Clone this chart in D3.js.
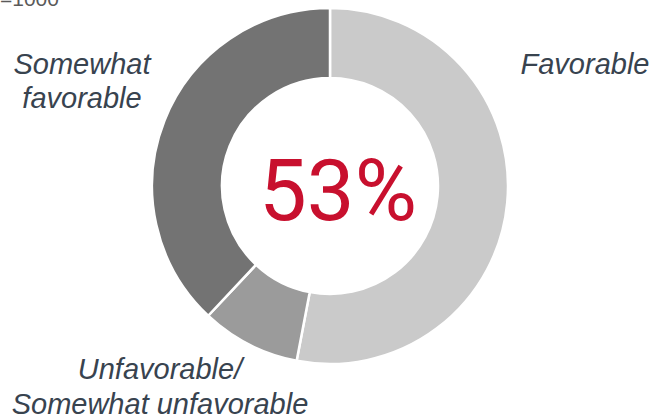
<!DOCTYPE html>
<html>
<head>
<meta charset="utf-8">
<script src="https://cdn.jsdelivr.net/npm/d3@7"></script>
<style>
  html, body { margin: 0; padding: 0; background: #fff; }
  svg { display: block; }
</style>
</head>
<body>
<svg id="chart" width="652" height="416"></svg>
<script>
// Survey responses (share of respondents, %)
const categories = ["Favorable", "Unfavorable/Somewhat unfavorable", "Somewhat favorable"];
const shares = [53, 9, 38];
const sliceColors = ["#cacaca", "#9b9b9b", "#737373"];
const centerLabel = "53%";
const sampleNote = "n=1000";

const svg = d3.select("#chart");
const cx = 330, cy = 186;
const outerR = 178, innerR = 108;

const pie = d3.pie().sort(null).value(d => d.value);
const arc = d3.arc().innerRadius(innerR).outerRadius(outerR);

const data = categories.map((c, i) => ({ name: c, value: shares[i], color: sliceColors[i] }));

const g = svg.append("g").attr("transform", `translate(${cx},${cy})`);
g.selectAll("path")
  .data(pie(data))
  .join("path")
  .attr("d", arc)
  .attr("fill", d => d.data.color)
  .attr("stroke", "#fff")
  .attr("stroke-width", 2.5)
  .attr("stroke-linejoin", "miter");

// Center value
svg.append("text")
  .attr("x", 338)
  .attr("y", 220)
  .attr("text-anchor", "middle")
  .attr("font-family", "Roboto, 'Liberation Sans', sans-serif")
  .attr("font-size", 85)
  .attr("fill", "#c8102e")
  .text(centerLabel);

// Sample size note (runs off the top-left corner)
svg.append("text")
  .attr("x", 0)
  .attr("y", 6)
  .attr("text-anchor", "end")
  .attr("font-family", "'Liberation Sans', Arial, sans-serif")
  .attr("font-size", 21)
  .attr("fill", "#5a5a5a")
  .text("n");
svg.append("text")
  .attr("x", 0)
  .attr("y", 6)
  .attr("font-family", "'Liberation Sans', Arial, sans-serif")
  .attr("font-size", 21)
  .attr("fill", "#5a5a5a")
  .text(sampleNote.slice(1));

// Category labels
const labelStyle = sel => sel
  .attr("font-family", "'Liberation Sans', Arial, sans-serif")
  .attr("font-style", "italic")
  .attr("font-size", 29)
  .attr("fill", "#38434f")
  .attr("text-anchor", "middle");

const labels = [
  { lines: ["Favorable"], x: 585, y: 74, dy: 34 },
  { lines: ["Unfavorable/", "Somewhat unfavorable"], x: 160, y: 379, dy: 35 },
  { lines: ["Somewhat", "favorable"], x: 82, y: 74, dy: 34 }
];

labels.forEach(l => {
  const t = svg.append("text").call(labelStyle).attr("y", l.y);
  l.lines.forEach((line, i) => {
    t.append("tspan").attr("x", l.x).attr("dy", i === 0 ? 0 : l.dy).text(line);
  });
});
</script>
</body>
</html>
